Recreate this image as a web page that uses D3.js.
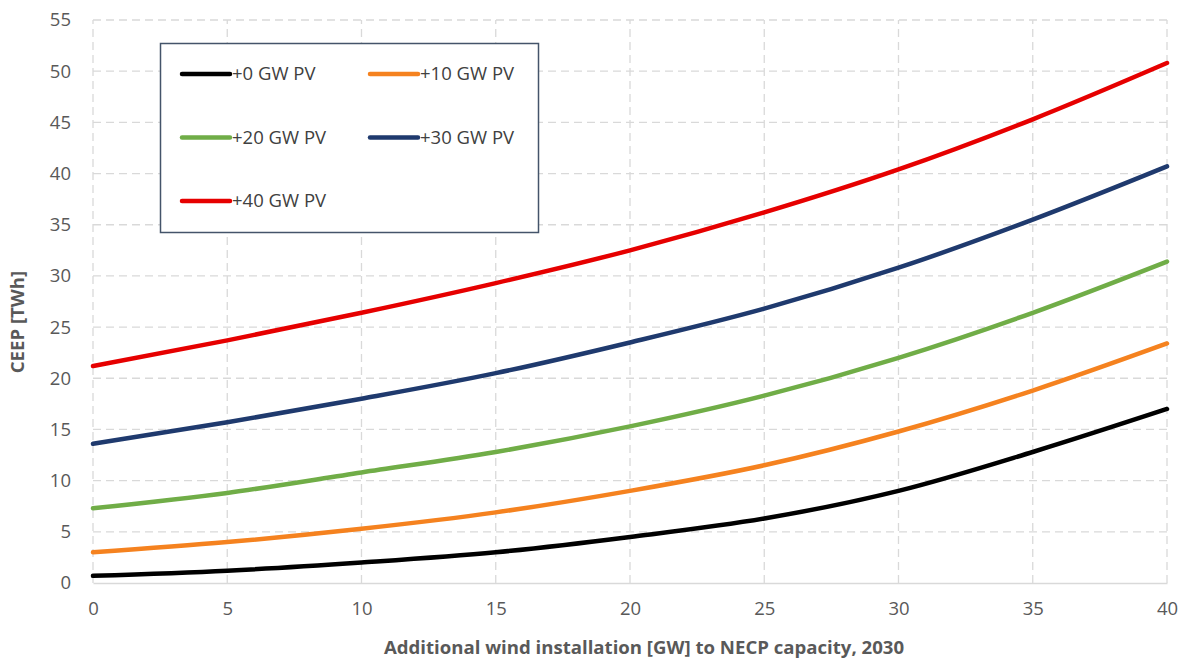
<!DOCTYPE html>
<html>
<head>
<meta charset="utf-8">
<script src="https://cdn.jsdelivr.net/npm/d3@7"></script>
<style>
    body { margin: 0; background: #fff; }
    svg { font-family: "Open Sans", "Noto Sans", sans-serif; }
</style>
</head>
<body>
<div id="chart"></div>
<script>
// Values
var windGW = [0, 5, 10, 15, 20, 25, 30, 35, 40];
var pv0 = [0.7, 1.2, 2.0, 3.0, 4.5, 6.3, 9.0, 12.8, 17.0];
var pv10 = [3.0, 4.0, 5.3, 6.9, 9.0, 11.5, 14.8, 18.8, 23.4];
var pv20 = [7.3, 8.8, 10.8, 12.8, 15.3, 18.3, 22.0, 26.4, 31.4];
var pv30 = [13.6, 15.7, 18.0, 20.5, 23.5, 26.8, 30.8, 35.5, 40.7];
var pv40 = [21.2, 23.7, 26.4, 29.3, 32.5, 36.2, 40.4, 45.3, 50.8];
var seriesNames = ["+0 GW PV", "+10 GW PV", "+20 GW PV", "+30 GW PV", "+40 GW PV"];
var xTicks = [0, 5, 10, 15, 20, 25, 30, 35, 40];
var yTicks = [0, 5, 10, 15, 20, 25, 30, 35, 40, 45, 50, 55];

(function () {
    "use strict";

    var width = 1180,
        height = 659,
        margin = {top: 20, right: 13, bottom: 76, left: 93},
        colors = ["#000000", "#f5821f", "#70ad47", "#1f3a6e", "#e60000"],
        allValues = [pv0, pv10, pv20, pv30, pv40];

    var series = seriesNames.map(function (name, i) {
        return {
            name: name,
            color: colors[i],
            values: windGW.map(function (x, j) { return {x: x, y: allValues[i][j]}; })
        };
    });

    var svg = d3.select("#chart").append("svg")
        .attr("width", width)
        .attr("height", height);

    var x = d3.scaleLinear().domain([0, 40]).range([margin.left, width - margin.right]);
    var y = d3.scaleLinear().domain([0, 55]).range([height - margin.bottom, margin.top]);

    // gridlines
    svg.append("g")
        .selectAll("line")
        .data(yTicks.filter(function (d) { return d > 0; }))
        .enter().append("line")
        .attr("x1", x(0)).attr("x2", x(40))
        .attr("y1", function (d) { return y(d); })
        .attr("y2", function (d) { return y(d); })
        .attr("stroke", "#d9d9d9")
        .attr("stroke-width", 1.3)
        .attr("stroke-dasharray", "8,5");

    svg.append("g")
        .selectAll("line")
        .data(xTicks)
        .enter().append("line")
        .attr("y1", y(0)).attr("y2", y(55))
        .attr("x1", function (d) { return x(d); })
        .attr("x2", function (d) { return x(d); })
        .attr("stroke", "#d9d9d9")
        .attr("stroke-width", 1.3)
        .attr("stroke-dasharray", "8,5");

    // bottom axis
    var xAxis = svg.append("g")
        .attr("transform", "translate(0," + y(0) + ")")
        .call(d3.axisBottom(x).tickValues(xTicks).tickSize(0).tickPadding(19));
    xAxis.select(".domain").attr("stroke", "#d9d9d9").attr("stroke-width", 1.5);
    xAxis.selectAll("text").attr("font-size", 18.5).attr("fill", "#595959")
        .attr("font-family", "\"Open Sans\", sans-serif");

    var yAxis = svg.append("g")
        .attr("transform", "translate(" + x(0) + ",0)")
        .call(d3.axisLeft(y).tickValues(yTicks).tickSize(0).tickPadding(22));
    yAxis.select(".domain").remove();
    yAxis.selectAll("text").attr("font-size", 18.5).attr("fill", "#595959")
        .attr("font-family", "\"Open Sans\", sans-serif");

    // axis titles
    svg.append("text")
        .attr("x", 644)
        .attr("y", 654)
        .attr("text-anchor", "middle")
        .attr("font-size", 18.6)
        .attr("font-weight", "bold")
        .attr("fill", "#595959")
        .text("Additional wind installation [GW] to NECP capacity, 2030");

    svg.append("text")
        .attr("transform", "translate(24,322) rotate(-90)")
        .attr("text-anchor", "middle")
        .attr("font-size", 18.6)
        .attr("font-weight", "bold")
        .attr("fill", "#595959")
        .text("CEEP [TWh]");

    // curves
    var line = d3.line()
        .x(function (d) { return x(d.x); })
        .y(function (d) { return y(d.y); })
        .curve(d3.curveMonotoneX);

    svg.append("g")
        .selectAll("path")
        .data(series)
        .enter().append("path")
        .attr("d", function (d) { return line(d.values); })
        .attr("fill", "none")
        .attr("stroke", function (d) { return d.color; })
        .attr("stroke-width", 4.5)
        .attr("stroke-linecap", "round");

    // legend
    var legend = svg.append("g");
    legend.append("rect")
        .attr("x", 160.5).attr("y", 43.5)
        .attr("width", 378).attr("height", 189)
        .attr("fill", "#fff")
        .attr("stroke", "#44546a")
        .attr("stroke-width", 1.5);

    var item = legend.selectAll("g.item")
        .data(series)
        .enter().append("g")
        .attr("class", "item")
        .attr("transform", function (d, i) {
            return "translate(" + (182 + (i % 2) * 188) + "," + (74 + Math.floor(i / 2) * 63.5) + ")";
        });

    item.append("line")
        .attr("x1", 0).attr("x2", 48)
        .attr("stroke", function (d) { return d.color; })
        .attr("stroke-width", 4.5)
        .attr("stroke-linecap", "round");

    item.append("text")
        .attr("x", 50)
        .attr("dy", "0.35em")
        .attr("font-size", 18.5)
        .attr("fill", "#404040")
        .text(function (d) { return d.name; });
}());
</script>
</body>
</html>
